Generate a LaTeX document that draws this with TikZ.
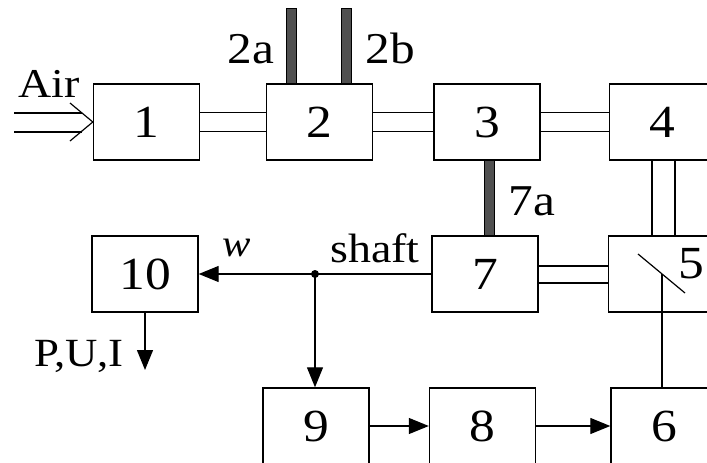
\documentclass[tikz,border=0pt]{standalone}
\usepackage{fontspec}
\setmainfont[FakeStretch=1.12]{Liberation Serif}
\usetikzlibrary{arrows.meta}
\definecolor{barfill}{HTML}{505050}
\tikzset{
  unit/.style={draw=black, line width=1.4pt, minimum width=106pt, minimum height=76pt,
    inner sep=0pt, font=\fontsize{46}{50}\selectfont},
  pipe/.style={line width=1.2pt},
  bar/.style={fill=barfill, draw=black, line width=0.6pt},
  sig/.style={line width=1.3pt, -{Triangle[length=20pt,width=16pt]}},
  lbl/.style={anchor=base, inner sep=0pt, font=\fontsize{44}{48}\selectfont},
}
\begin{document}
\begin{tikzpicture}[x=1pt,y=-1pt]
\useasboundingbox (0,0) rectangle (707,463);
\clip (0,0) rectangle (707,463);

% units
\node[unit] (b1) at (146.5,122) {1};
\node[unit] (b2) at (319.5,122) {2};
\node[unit] (b3) at (487,122) {3};
\node[unit] (b4) at (662.5,122) {4};
\node[unit] (b10) at (145,274) {10};
\node[unit] (b7) at (485,274) {7};
\node[unit] (b5) at (661.5,274) {};
\node[unit] (b9) at (316,426) {9};
\node[unit] (b8) at (482.5,426) {8};
\node[unit] (b6) at (664,426) {6};

% air inlet (double arrow)
\coordinate (airU) at (14,113);
\coordinate (airL) at (14,132);
\draw[pipe] (airU) -- (82,113);
\draw[pipe] (airL) -- (82,132);
\draw[pipe] (70,103) -- (b1.west) -- (70,141);
\node[lbl, font=\fontsize{41}{45}\selectfont] (air) at (49,97) {Air};

% double pipes between units
\foreach \a/\b in {b1/b2, b2/b3, b3/b4}{
  \draw[pipe] ([yshift=9.5pt]\a.east) -- ([yshift=9.5pt]\b.west);
  \draw[pipe] ([yshift=-9.5pt]\a.east) -- ([yshift=-9.5pt]\b.west);
}
\draw[pipe] ([xshift=-10.5pt]b4.south) -- ([xshift=-9.5pt]b5.north);
\draw[pipe] ([xshift=12.5pt]b4.south) -- ([xshift=13.5pt]b5.north);
\draw[pipe] ([yshift=8pt]b7.east) -- ([yshift=8pt]b5.west);
\draw[pipe] ([yshift=-9pt]b7.east) -- ([yshift=-9pt]b5.west);

% feed bars
\draw[bar] ([xshift=-33.5pt]b2.north) rectangle ++(10,-75);
\draw[bar] ([xshift=21.5pt]b2.north) rectangle ++(10,-75);
\draw[bar] ([xshift=-3pt]b3.south) rectangle ([xshift=9pt]b7.north);
\node[lbl] (l2a) at (251,63) {2a};
\node[lbl] (l2b) at (390,63) {2b};
\node[lbl] (l7a) at (532,215) {7a};

% switch in unit 5
\coordinate (s1) at (638,254);
\coordinate (s2) at (685,293);
\coordinate (s5) at (662,274);
\draw[line width=1.2pt] (s1) -- (s2);
\node[lbl, font=\fontsize{46}{50}\selectfont] (l5) at (691,278) {5};
\draw[line width=1.2pt] (s5) -- (s5 |- b6.north);

% shaft and signals
\coordinate (j) at (315,274);
\draw[sig] (b7.west) -- (b10.east);
\fill (j) circle (4pt);
\draw[sig] (j) -- (j |- b9.north);
\coordinate (out) at (145,370);
\draw[sig] (b10.south) -- (out);
\draw[sig] (b9.east) -- (b8.west);
\draw[sig] (b8.east) -- (b6.west);

\node[lbl, font=\fontsize{38}{42}\selectfont\itshape] (lw) at (237,256) {w};
\node[lbl, font=\fontsize{41}{45}\selectfont] (lshaft) at (375,262) {shaft};
\node[lbl, font=\fontsize{40}{44}\selectfont] (lpui) at (79,366) {P,U,I};
\end{tikzpicture}
\end{document}
